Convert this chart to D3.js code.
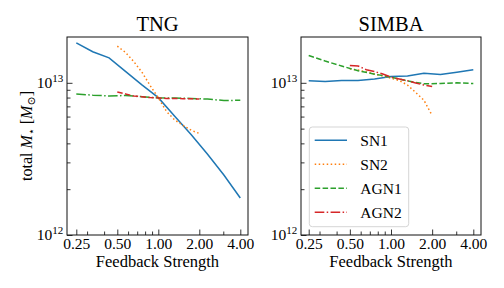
<!DOCTYPE html>
<html>
<head>
<meta charset="utf-8">
<script src="https://cdn.jsdelivr.net/npm/d3@7"></script>
<style>
body { margin: 0; background: #fff; }
text { font-family: "Liberation Serif", "DejaVu Serif", serif; fill: #000; }
</style>
</head>
<body>
<script>
// feedback parameter values (1P set)
const params1 = [0.25, 0.33, 0.435, 0.574, 0.758, 1.0, 1.32, 1.74, 2.3, 3.03, 4.0];
const params2 = [0.5, 0.574, 0.66, 0.758, 0.871, 1.0, 1.149, 1.32, 1.516, 1.741, 2.0];

// total stellar mass, TNG
const tngSN1 = [1.83e13, 1.60e13, 1.46e13, 1.19e13, 9.7e12, 7.99e12, 6.04e12, 4.57e12, 3.39e12, 2.48e12, 1.75e12];
const tngSN2 = [1.74e13, 1.585e13, 1.38e13, 1.175e13, 9.6e12, 7.97e12, 6.48e12, 5.7e12, 5.26e12, 4.88e12, 4.65e12];
const tngAGN1 = [8.45e12, 8.3e12, 8.2e12, 8.25e12, 8.1e12, 7.97e12, 7.95e12, 7.9e12, 7.82e12, 7.65e12, 7.68e12];
const tngAGN2 = [8.7e12, 8.45e12, 8.2e12, 8.1e12, 8.0e12, 7.95e12, 7.9e12, 7.88e12, 7.87e12, 7.85e12, 7.83e12];

// total stellar mass, SIMBA
const simbaSN1 = [1.03e13, 1.02e13, 1.035e13, 1.035e13, 1.06e13, 1.10e13, 1.11e13, 1.155e13, 1.135e13, 1.175e13, 1.22e13];
const simbaSN2 = [1.236e13, 1.213e13, 1.177e13, 1.142e13, 1.108e13, 1.072e13, 1.035e13, 9.67e12, 8.64e12, 7.69e12, 6.1e12];
const simbaAGN1 = [1.51e13, 1.39e13, 1.29e13, 1.2e13, 1.14e13, 1.09e13, 1.03e13, 9.85e12, 9.9e12, 1.0e13, 9.9e12];
const simbaAGN2 = [1.30e13, 1.29e13, 1.22e13, 1.186e13, 1.142e13, 1.089e13, 1.059e13, 1.031e13, 9.97e12, 9.67e12, 9.45e12];

const xTicks = [0.25, 0.5, 1, 2, 4];
const xMinor = [0.3, 0.4, 0.6, 0.7, 0.8, 0.9, 3];
const yTicks = [1e12, 1e13];
const yMinor = [2e12, 3e12, 4e12, 5e12, 6e12, 7e12, 8e12, 9e12];

const names = ['SN1', 'SN2', 'AGN1', 'AGN2'];
const colors = {SN1: '#1f77b4', SN2: '#ff7f0e', AGN1: '#2ca02c', AGN2: '#d62728'};
const dashes = {solid: null, dot: '1.5,2.5', dash: '5.5,2.4', dashdot: '9.6,2.4,1.5,2.4'};

const panels = [
    {title: 'TNG', left: 67, right: 248, x0: 76.3, x1: 240.3,
     data: {SN1: tngSN1, SN2: tngSN2, AGN1: tngAGN1, AGN2: tngAGN2},
     style: {SN1: 'solid', SN2: 'dot', AGN1: 'dashdot', AGN2: 'dash'}},
    {title: 'SIMBA', left: 301, right: 481, x0: 308.7, x1: 473.3,
     data: {SN1: simbaSN1, SN2: simbaSN2, AGN1: simbaAGN1, AGN2: simbaAGN2},
     style: {SN1: 'solid', SN2: 'dot', AGN1: 'dash', AGN2: 'dashdot'}}
];
const xValues = {SN1: params1, SN2: params2, AGN1: params1, AGN2: params2};

const plotTop = 37, plotBottom = 235;

const svg = d3.select('body').append('svg')
    .attr('width', 504)
    .attr('height', 288);

const scaleY = d3.scaleLog()
    .domain([1e12, 2e13])
    .range([plotBottom, plotTop]);

panels.forEach((p, pi) => {
    const scaleX = d3.scaleLog()
        .domain([0.25, 4])
        .range([p.x0, p.x1]);

    const g = svg.append('g');

    // lines
    names.forEach(n => {
        const pts = xValues[n].map((x, i) => [x, p.data[n][i]]);
        g.append('path')
            .datum(pts)
            .attr('fill', 'none')
            .attr('stroke', colors[n])
            .attr('stroke-width', 1.5)
            .attr('stroke-dasharray', dashes[p.style[n]])
            .attr('d', d3.line().x(d => scaleX(d[0])).y(d => scaleY(d[1])));
    });

    // x axis
    const xAxis = g.append('g')
        .attr('transform', `translate(0, ${plotBottom})`)
        .call(d3.axisBottom(scaleX).tickValues(xTicks).tickSize(-5.5).tickPadding(2.5)
            .tickFormat(d3.format('.2f')));
    g.append('g')
        .attr('transform', `translate(0, ${plotBottom})`)
        .call(d3.axisBottom(scaleX).tickValues(xMinor).tickSize(-3.5).tickFormat(''));

    // y axis
    const yAxis = g.append('g')
        .attr('transform', `translate(${p.left}, 0)`)
        .call(d3.axisLeft(scaleY).tickValues(yTicks).tickSize(-5.5).tickPadding(3.8)
            .tickFormat(''));
    g.append('g')
        .attr('transform', `translate(${p.left}, 0)`)
        .call(d3.axisLeft(scaleY).tickValues(yMinor).tickSize(-3.5).tickFormat(''));

    g.selectAll('.domain').remove();
    g.selectAll('.tick line').attr('stroke', '#000').attr('stroke-width', 0.8);
    xAxis.selectAll('text').attr('font-size', '15.5px').attr('font-family', null).attr('fill', '#000');

    yAxis.selectAll('.tick text')
        .attr('font-size', '15.5px').attr('font-family', null).attr('fill', '#000')
        .each(function(d) {
            const t = d3.select(this);
            t.text(null);
            t.append('tspan').text('10');
            t.append('tspan').attr('font-size', '11px').attr('dy', '-0.55em')
                .text(Math.round(Math.log10(d)));
        });

    // frame
    g.append('rect')
        .attr('x', p.left).attr('y', plotTop)
        .attr('width', p.right - p.left).attr('height', plotBottom - plotTop)
        .attr('fill', 'none').attr('stroke', '#111').attr('stroke-width', 1);

    // title
    g.append('text')
        .attr('x', (p.left + p.right) / 2).attr('y', 30.7)
        .attr('text-anchor', 'middle').attr('font-size', '20.5px')
        .text(p.title);

    // x label
    g.append('text')
        .attr('x', (p.left + p.right) / 2).attr('y', 267)
        .attr('text-anchor', 'middle').attr('font-size', '16.5px')
        .text('Feedback Strength');

    // legend in the second panel
    if (pi === 1) {
        const lg = g.append('g');
        lg.append('rect')
            .attr('x', 309.3).attr('y', 127).attr('width', 99.4).attr('height', 99.7)
            .attr('rx', 3).attr('fill', '#fff').attr('fill-opacity', 0.8)
            .attr('stroke', '#d5d5d5').attr('stroke-width', 1);
        names.forEach((n, i) => {
            const y = 140.3 + i * 24;
            lg.append('line')
                .attr('x1', 314.7).attr('x2', 347).attr('y1', y).attr('y2', y)
                .attr('stroke', colors[n]).attr('stroke-width', 1.5)
                .attr('stroke-dasharray', dashes[p.style[n]]);
            lg.append('text')
                .attr('x', 360.3).attr('y', y + 5.2).attr('font-size', '15.5px')
                .text(n);
        });
    }
});

// y label
const yl = svg.append('text')
    .attr('transform', 'translate(31.5, 136) rotate(-90)')
    .attr('text-anchor', 'middle')
    .attr('font-size', '16px');
yl.append('tspan').text('total ');
yl.append('tspan').attr('font-style', 'italic').text('M');
yl.append('tspan').attr('font-size', '11px').attr('dy', 3).text('\u22C6');
yl.append('tspan').attr('dy', -3).text(' [');
yl.append('tspan').attr('font-style', 'italic').text('M');
yl.append('tspan').attr('font-size', '11px').attr('dy', 3).text('\u2299');
yl.append('tspan').attr('dy', -3).text(']');
</script>
</body>
</html>
